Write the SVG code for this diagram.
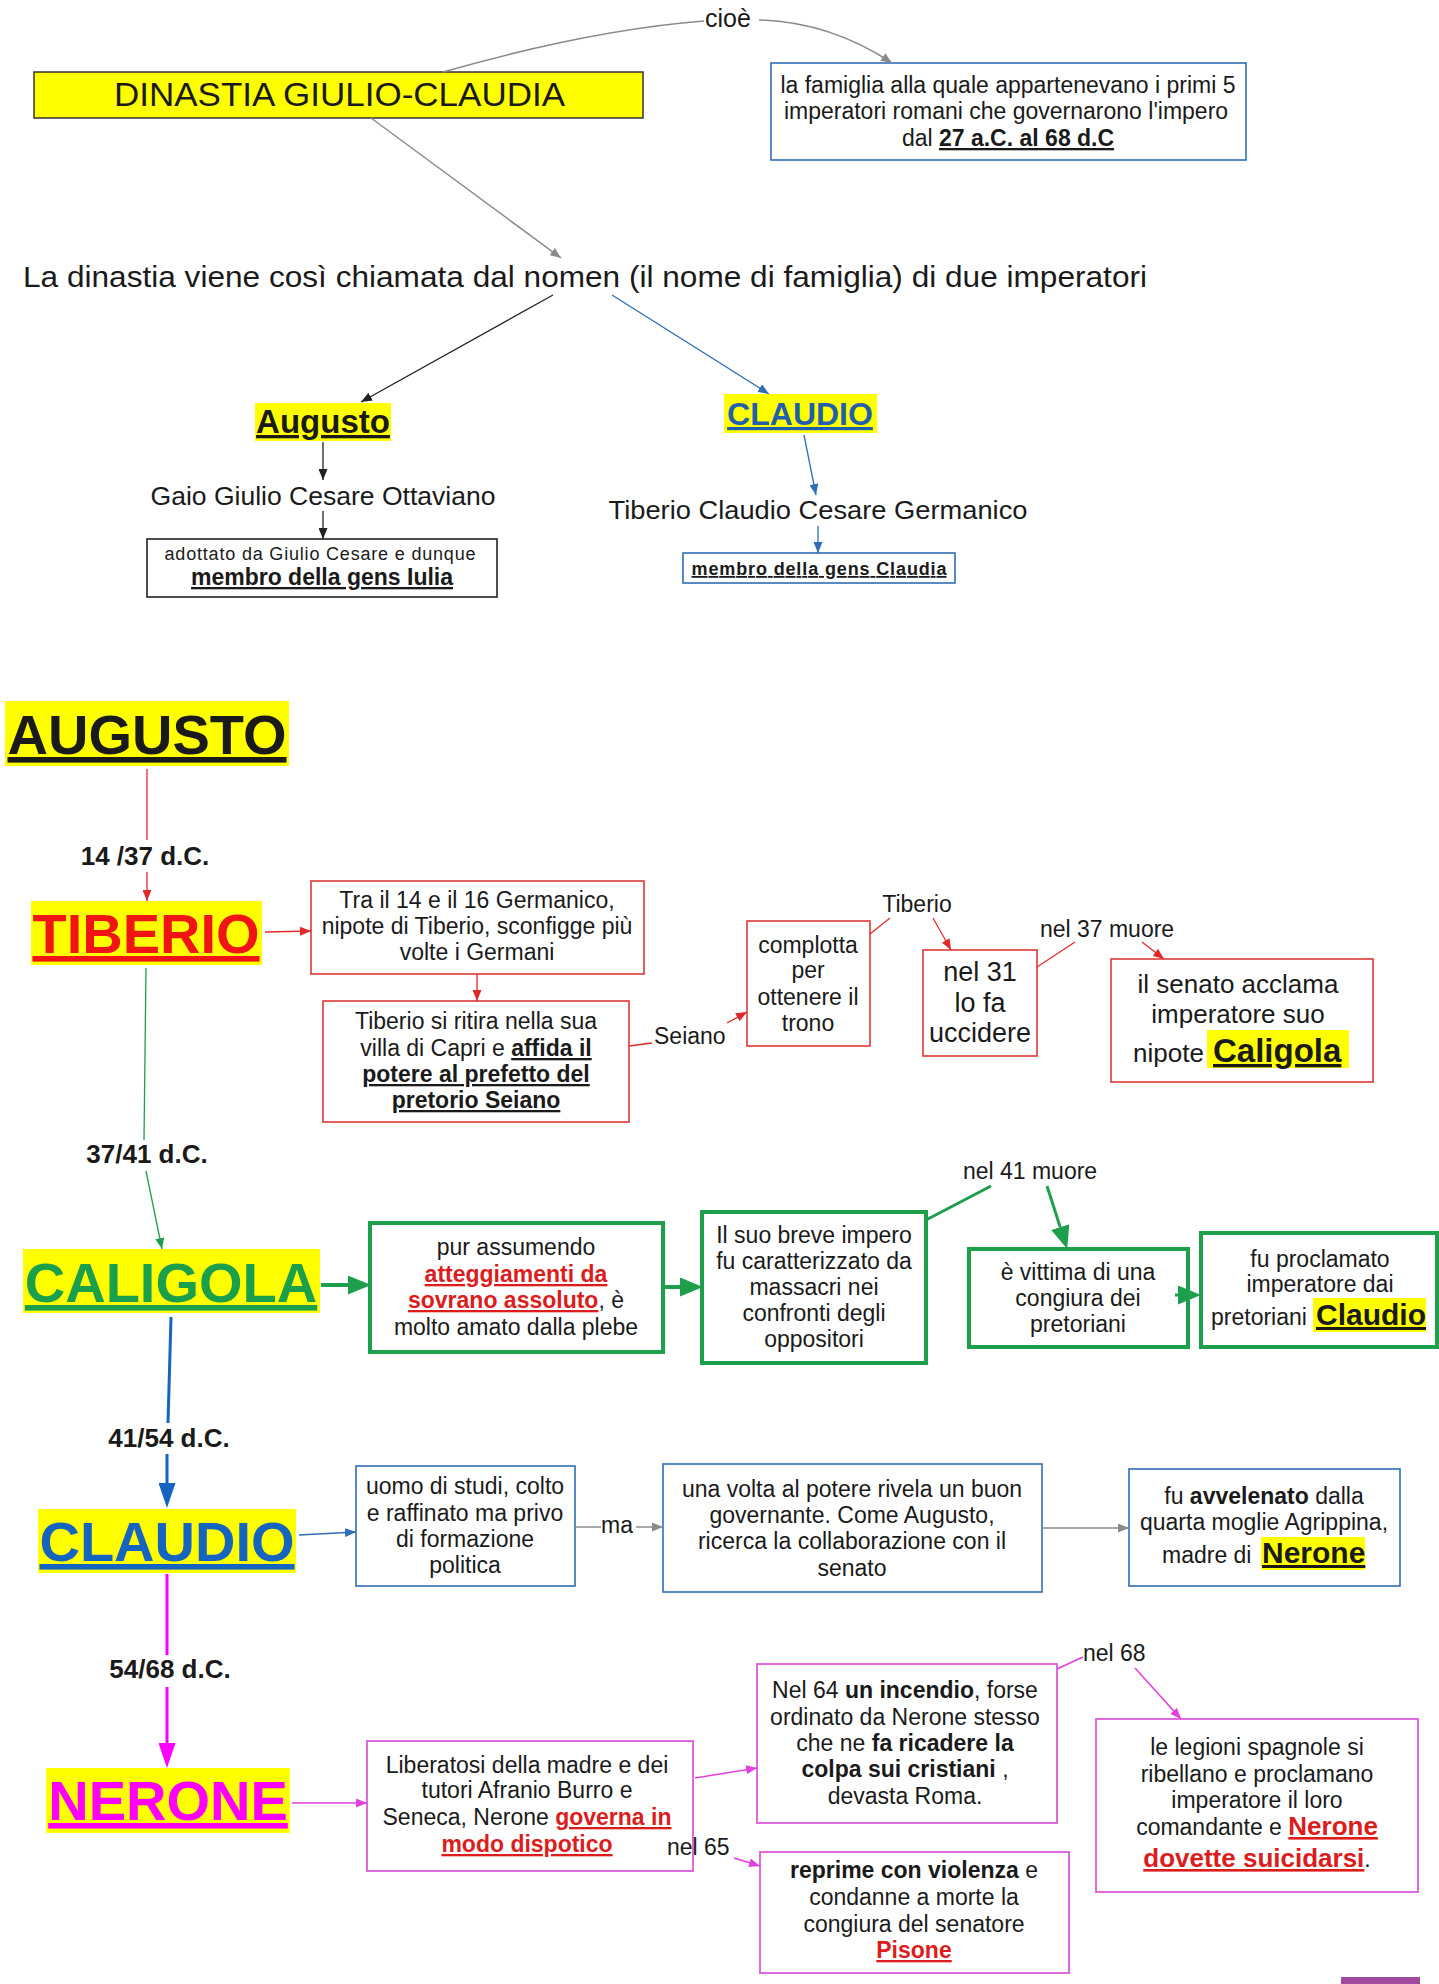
<svg xmlns="http://www.w3.org/2000/svg" width="1439" height="1984" viewBox="0 0 1439 1984">
<style>
text{font-family:"Liberation Sans",Arial,Helvetica,sans-serif;fill:#1a1a1a}
.t23{font-size:23px}
.lbl{font-size:23px}
.date{font-size:26px;font-weight:bold}
.b{font-weight:bold}
.u{text-decoration:underline}
.red{fill:#dd1c1c}
.title{font-size:56px;font-weight:bold;text-decoration:underline}
.hl{fill:#ffff00}
.bx-red{fill:#fff;stroke:#e03838;stroke-width:1.6}
.bx-green{fill:#fff;stroke:#1e9f4b;stroke-width:4}
.bx-blue{fill:#fff;stroke:#2f6eb5;stroke-width:1.6}
.bx-mag{fill:#fff;stroke:#dc5adc;stroke-width:1.8}
.bx-black{fill:#fff;stroke:#222;stroke-width:1.6}
.c{fill:none}
.cg{stroke:#8a8a8a;stroke-width:1.5}
.ck{stroke:#222;stroke-width:1.3}
.cb{stroke:#2f6eb5;stroke-width:1.3}
.cr{stroke:#e02a2a;stroke-width:1.3}
.cgr{stroke:#1e9f4b;stroke-width:1.3}
.cgrT{stroke:#1e9f4b;stroke-width:4}
.cgrM{stroke:#1e9f4b;stroke-width:3}
.cbT{stroke:#1565c0;stroke-width:3}
.cm{stroke:#e040e0;stroke-width:1.6}
.cmT{stroke:#ff00ff;stroke-width:3}
</style>
<defs>
<marker id="aGray" markerUnits="userSpaceOnUse" markerWidth="11" markerHeight="9" refX="11" refY="4.5" orient="auto"><path d="M0,0 L11,4.5 L0,9 z" fill="#8a8a8a"/></marker>
<marker id="aBlack" markerUnits="userSpaceOnUse" markerWidth="11" markerHeight="9" refX="11" refY="4.5" orient="auto"><path d="M0,0 L11,4.5 L0,9 z" fill="#222"/></marker>
<marker id="aBlue" markerUnits="userSpaceOnUse" markerWidth="11" markerHeight="9" refX="11" refY="4.5" orient="auto"><path d="M0,0 L11,4.5 L0,9 z" fill="#2f6eb5"/></marker>
<marker id="aRed" markerUnits="userSpaceOnUse" markerWidth="11" markerHeight="9" refX="11" refY="4.5" orient="auto"><path d="M0,0 L11,4.5 L0,9 z" fill="#e02a2a"/></marker>
<marker id="aGreen" markerUnits="userSpaceOnUse" markerWidth="11" markerHeight="9" refX="11" refY="4.5" orient="auto"><path d="M0,0 L11,4.5 L0,9 z" fill="#1e9f4b"/></marker>
<marker id="aMag" markerUnits="userSpaceOnUse" markerWidth="11" markerHeight="9" refX="11" refY="4.5" orient="auto"><path d="M0,0 L11,4.5 L0,9 z" fill="#e040e0"/></marker>
<marker id="bGreen" markerUnits="userSpaceOnUse" markerWidth="23" markerHeight="19" refX="0" refY="9.5" orient="auto"><path d="M0,0 L23,9.5 L0,19 z" fill="#1e9f4b"/></marker>
<marker id="bBlue" markerUnits="userSpaceOnUse" markerWidth="25" markerHeight="17" refX="0" refY="8.5" orient="auto"><path d="M0,0 L25,8.5 L0,17 z" fill="#1565c0"/></marker>
<marker id="bMag" markerUnits="userSpaceOnUse" markerWidth="25" markerHeight="17" refX="0" refY="8.5" orient="auto"><path d="M0,0 L25,8.5 L0,17 z" fill="#ff00ff"/></marker>
</defs>

<g id="node-dinastia">
<rect x="34" y="72" width="609" height="46" fill="#ffff00" stroke="#333" stroke-width="1.5"/>
<text x="339.5" y="106" text-anchor="middle" style="font-size:34px" textLength="451" lengthAdjust="spacingAndGlyphs">DINASTIA GIULIO-CLAUDIA</text>
</g>

<g id="node-famiglia">
<rect x="771" y="63" width="475" height="97" class="bx-blue"/>
<text x="1008" y="93" text-anchor="middle" class="t23">la famiglia alla quale appartenevano i primi 5</text>
<text x="1006" y="119" text-anchor="middle" class="t23">imperatori romani che governarono l'impero</text>
<text x="1008" y="146" text-anchor="middle" class="t23">dal <tspan class="b u">27 a.C. al 68 d.C</tspan></text>
</g>

<g id="node-nomen">
<text x="23" y="287" style="font-size:30px" textLength="1124" lengthAdjust="spacingAndGlyphs">La dinastia viene così chiamata dal nomen (il nome di famiglia) di due imperatori</text>
</g>

<g id="node-augusto-small">
<rect x="255" y="403" width="136" height="38" class="hl"/>
<text x="323" y="433" text-anchor="middle" class="b u" style="font-size:33px">Augusto</text>
</g>

<g id="node-claudio-small">
<rect x="724" y="394" width="153" height="39" class="hl"/>
<text x="800" y="425" text-anchor="middle" class="b u" style="font-size:32px;fill:#1f5fae">CLAUDIO</text>
</g>

<g id="node-gaio">
<text x="323" y="505" text-anchor="middle" style="font-size:26px" textLength="345" lengthAdjust="spacingAndGlyphs">Gaio Giulio Cesare Ottaviano</text>
</g>

<g id="node-iulia">
<rect x="147" y="539" width="350" height="58" class="bx-black"/>
<text x="320" y="560" text-anchor="middle" style="font-size:18px" textLength="311" lengthAdjust="spacing">adottato da Giulio Cesare e dunque</text>
<text x="322" y="585" text-anchor="middle" class="b u" style="font-size:23px">membro della gens Iulia</text>
</g>

<g id="node-tiberio-claudio">
<text x="818" y="519" text-anchor="middle" style="font-size:26px" textLength="419" lengthAdjust="spacingAndGlyphs">Tiberio Claudio Cesare Germanico</text>
</g>

<g id="node-claudia">
<rect x="683" y="553" width="272" height="30" class="bx-blue"/>
<text x="819" y="575" text-anchor="middle" class="b u" style="font-size:18px" textLength="255" lengthAdjust="spacing">membro della gens Claudia</text>
</g>

<g id="node-AUGUSTO">
<rect x="5" y="701" width="284" height="65" class="hl"/>
<text x="147" y="754" text-anchor="middle" class="title">AUGUSTO</text>
</g>

<g id="node-TIBERIO">
<rect x="31" y="901" width="231" height="64" class="hl"/>
<text x="146" y="953" text-anchor="middle" class="title" style="fill:#f01414">TIBERIO</text>
</g>

<g id="node-germanico">
<rect x="311" y="881" width="333" height="93" class="bx-red"/>
<text x="477" y="908" text-anchor="middle" class="t23">Tra il 14 e il 16 Germanico,</text>
<text x="477" y="934" text-anchor="middle" class="t23">nipote di Tiberio, sconfigge più</text>
<text x="477" y="960" text-anchor="middle" class="t23">volte i Germani</text>
</g>

<g id="node-capri">
<rect x="323" y="1001" width="306" height="121" class="bx-red"/>
<text x="476" y="1029" text-anchor="middle" class="t23">Tiberio si ritira nella sua</text>
<text x="476" y="1056" text-anchor="middle" class="t23">villa di Capri e <tspan class="b u">affida il</tspan></text>
<text x="476" y="1082" text-anchor="middle" class="t23 b u">potere al prefetto del</text>
<text x="476" y="1108" text-anchor="middle" class="t23 b u">pretorio Seiano</text>
</g>

<g id="node-complotta">
<rect x="747" y="921" width="123" height="125" class="bx-red"/>
<text x="808" y="953" text-anchor="middle" class="t23">complotta</text>
<text x="808" y="978" text-anchor="middle" class="t23">per</text>
<text x="808" y="1005" text-anchor="middle" class="t23">ottenere il</text>
<text x="808" y="1031" text-anchor="middle" class="t23">trono</text>
</g>

<g id="node-nel31">
<rect x="923" y="950" width="114" height="106" class="bx-red"/>
<text x="980" y="981" text-anchor="middle" style="font-size:27px">nel 31</text>
<text x="980" y="1012" text-anchor="middle" style="font-size:27px">lo fa</text>
<text x="980" y="1042" text-anchor="middle" style="font-size:27px">uccidere</text>
</g>

<g id="node-senato">
<rect x="1111" y="959" width="262" height="123" class="bx-red"/>
<text x="1238" y="993" text-anchor="middle" style="font-size:26px">il senato acclama</text>
<text x="1238" y="1023" text-anchor="middle" style="font-size:26px">imperatore suo</text>
<rect x="1207" y="1030" width="142" height="38" class="hl"/>
<text x="1133" y="1062" style="font-size:26px">nipote</text>
<text x="1213" y="1062" class="b u" style="font-size:33px">Caligola</text>
</g>

<g id="node-CALIGOLA">
<rect x="23" y="1249" width="297" height="64" class="hl"/>
<text x="171" y="1302" text-anchor="middle" class="title" style="fill:#1a9f4b">CALIGOLA</text>
</g>

<g id="node-plebe">
<rect x="370" y="1223" width="293" height="129" class="bx-green"/>
<text x="516" y="1255" text-anchor="middle" class="t23">pur assumendo</text>
<text x="516" y="1282" text-anchor="middle" class="t23 b u red">atteggiamenti da</text>
<text x="516" y="1308" text-anchor="middle" class="t23"><tspan class="b u red">sovrano assoluto</tspan>, è</text>
<text x="516" y="1335" text-anchor="middle" class="t23">molto amato dalla plebe</text>
</g>

<g id="node-massacri">
<rect x="702" y="1212" width="224" height="151" class="bx-green"/>
<text x="814" y="1243" text-anchor="middle" class="t23">Il suo breve impero</text>
<text x="814" y="1269" text-anchor="middle" class="t23">fu caratterizzato da</text>
<text x="814" y="1295" text-anchor="middle" class="t23">massacri nei</text>
<text x="814" y="1321" text-anchor="middle" class="t23">confronti degli</text>
<text x="814" y="1347" text-anchor="middle" class="t23">oppositori</text>
</g>

<g id="node-congiura">
<rect x="969" y="1249" width="219" height="98" class="bx-green"/>
<text x="1078" y="1280" text-anchor="middle" class="t23">è vittima di una</text>
<text x="1078" y="1306" text-anchor="middle" class="t23">congiura dei</text>
<text x="1078" y="1332" text-anchor="middle" class="t23">pretoriani</text>
</g>

<g id="node-proclamato">
<rect x="1201" y="1233" width="236" height="114" class="bx-green"/>
<text x="1320" y="1267" text-anchor="middle" class="t23">fu proclamato</text>
<text x="1320" y="1292" text-anchor="middle" class="t23">imperatore dai</text>
<rect x="1313" y="1298" width="113" height="34" class="hl"/>
<text x="1211" y="1325" class="t23">pretoriani</text>
<text x="1316" y="1325" class="b u" style="font-size:30px">Claudio</text>
</g>

<g id="node-CLAUDIO">
<rect x="38" y="1509" width="258" height="64" class="hl"/>
<text x="167" y="1561" text-anchor="middle" class="title" style="fill:#1565c0">CLAUDIO</text>
</g>

<g id="node-studi">
<rect x="356" y="1466" width="219" height="120" class="bx-blue"/>
<text x="465" y="1494" text-anchor="middle" class="t23">uomo di studi, colto</text>
<text x="465" y="1521" text-anchor="middle" class="t23">e raffinato ma privo</text>
<text x="465" y="1547" text-anchor="middle" class="t23">di formazione</text>
<text x="465" y="1573" text-anchor="middle" class="t23">politica</text>
</g>

<g id="node-governante">
<rect x="663" y="1464" width="379" height="128" class="bx-blue"/>
<text x="852" y="1497" text-anchor="middle" class="t23">una volta al potere rivela un buon</text>
<text x="852" y="1523" text-anchor="middle" class="t23">governante. Come Augusto,</text>
<text x="852" y="1549" text-anchor="middle" class="t23">ricerca la collaborazione con il</text>
<text x="852" y="1576" text-anchor="middle" class="t23">senato</text>
</g>

<g id="node-avvelenato">
<rect x="1129" y="1469" width="271" height="117" class="bx-blue"/>
<text x="1264" y="1504" text-anchor="middle" class="t23">fu <tspan class="b">avvelenato</tspan> dalla</text>
<text x="1264" y="1530" text-anchor="middle" class="t23">quarta moglie Agrippina,</text>
<rect x="1261" y="1537" width="104" height="33" class="hl"/>
<text x="1162" y="1563" class="t23">madre di</text>
<text x="1262" y="1563" class="b u" style="font-size:30px">Nerone</text>
</g>

<g id="node-NERONE">
<rect x="46" y="1768" width="244" height="65" class="hl"/>
<text x="168" y="1820" text-anchor="middle" class="title" style="fill:#ff00ff">NERONE</text>
</g>

<g id="node-dispotico">
<rect x="367" y="1741" width="326" height="130" class="bx-mag"/>
<text x="527" y="1773" text-anchor="middle" class="t23">Liberatosi della madre e dei</text>
<text x="527" y="1798" text-anchor="middle" class="t23">tutori Afranio Burro e</text>
<text x="527" y="1825" text-anchor="middle" class="t23">Seneca, Nerone <tspan class="b u red">governa in</tspan></text>
<text x="527" y="1852" text-anchor="middle" class="t23 b u red">modo dispotico</text>
</g>

<g id="node-incendio">
<rect x="757" y="1664" width="300" height="159" class="bx-mag"/>
<text x="905" y="1698" text-anchor="middle" class="t23">Nel 64 <tspan class="b">un incendio</tspan>, forse</text>
<text x="905" y="1725" text-anchor="middle" class="t23">ordinato da Nerone stesso</text>
<text x="905" y="1751" text-anchor="middle" class="t23">che ne <tspan class="b">fa ricadere la</tspan></text>
<text x="905" y="1777" text-anchor="middle" class="t23"><tspan class="b">colpa sui cristiani</tspan> ,</text>
<text x="905" y="1804" text-anchor="middle" class="t23">devasta Roma.</text>
</g>

<g id="node-legioni">
<rect x="1096" y="1719" width="322" height="173" class="bx-mag"/>
<text x="1257" y="1755" text-anchor="middle" class="t23">le legioni spagnole si</text>
<text x="1257" y="1782" text-anchor="middle" class="t23">ribellano e proclamano</text>
<text x="1257" y="1808" text-anchor="middle" class="t23">imperatore il loro</text>
<text x="1257" y="1835" text-anchor="middle" class="t23">comandante e <tspan class="b u red" style="font-size:26px">Nerone</tspan></text>
<text x="1257" y="1867" text-anchor="middle" class="t23"><tspan class="b u red" style="font-size:26px">dovette suicidarsi</tspan>.</text>
</g>

<g id="node-pisone">
<rect x="760" y="1852" width="309" height="121" class="bx-mag"/>
<text x="914" y="1878" text-anchor="middle" class="t23"><tspan class="b">reprime con violenza</tspan> e</text>
<text x="914" y="1905" text-anchor="middle" class="t23">condanne a morte la</text>
<text x="914" y="1932" text-anchor="middle" class="t23">congiura del senatore</text>
<text x="914" y="1958" text-anchor="middle" class="t23 b u red">Pisone</text>
</g>

<rect x="1341" y="1977" width="79" height="7" fill="#a04a9e"/>

<g id="connectors">
<path class="c cg" d="M443,72 Q590,30 704,21"/>
<path class="c cg" d="M759,20 Q830,22 892,63" marker-end="url(#aGray)"/>
<path class="c cg" d="M371,118 L561,258" marker-end="url(#aGray)"/>
<path class="c ck" d="M553,295 L361,402" marker-end="url(#aBlack)"/>
<path class="c cb" d="M612,295 L769,394" marker-end="url(#aBlue)"/>
<path class="c ck" d="M323,442 L323,480" marker-end="url(#aBlack)"/>
<path class="c ck" d="M323,511 L323,539" marker-end="url(#aBlack)"/>
<path class="c cb" d="M804,435 L816,495" marker-end="url(#aBlue)"/>
<path class="c cb" d="M818,526 L818,553" marker-end="url(#aBlue)"/>

<path class="c cr" d="M147,769 L147,840"/>
<path class="c cr" d="M147,872 L147,901" marker-end="url(#aRed)"/>
<path class="c cr" d="M265,932 L311,931" marker-end="url(#aRed)"/>
<path class="c cr" d="M477,974 L477,1001" marker-end="url(#aRed)"/>
<path class="c cr" d="M629,1046 L652,1043"/>
<path class="c cr" d="M727,1023 L747,1012" marker-end="url(#aRed)"/>
<path class="c cr" d="M870,934 L890,918"/>
<path class="c cr" d="M933,918 L951,950" marker-end="url(#aRed)"/>
<path class="c cr" d="M1037,967 L1075,942"/>
<path class="c cr" d="M1142,942 L1164,959" marker-end="url(#aRed)"/>

<path class="c cgr" d="M146,968 L144,1140"/>
<path class="c cgr" d="M146,1171 L162,1249" marker-end="url(#aGreen)"/>
<path class="c cgrT" d="M321,1285 L348,1285" marker-end="url(#bGreen)"/>
<path class="c cgrT" d="M663,1287 L680,1287" marker-end="url(#bGreen)"/>
<path class="c cgrM" d="M926,1220 L991,1186"/>
<path class="c cgrM" d="M1047,1186 L1060.2,1227.1" marker-end="url(#bGreen)"/>
<path class="c cgrM" d="M1175,1295 L1178,1295" marker-end="url(#bGreen)"/>

<path class="c cbT" d="M171,1317 L168,1423"/>
<path class="c cbT" d="M167,1454 L167,1483" marker-end="url(#bBlue)"/>
<path class="c cb" d="M299,1535 L356,1532" marker-end="url(#aBlue)"/>
<path class="c cg" d="M575,1527 L601,1527"/>
<path class="c cg" d="M636,1527 L663,1527" marker-end="url(#aGray)"/>
<path class="c cg" d="M1042,1528 L1129,1528" marker-end="url(#aGray)"/>

<path class="c cmT" d="M167,1574 L167,1655"/>
<path class="c cmT" d="M167,1687 L167,1743" marker-end="url(#bMag)"/>
<path class="c cm" d="M292,1803 L367,1803" marker-end="url(#aMag)"/>
<path class="c cm" d="M695,1778 L757,1768" marker-end="url(#aMag)"/>
<path class="c cm" d="M1057,1669 L1083,1657"/>
<path class="c cm" d="M1135,1668 L1181,1719" marker-end="url(#aMag)"/>
<path class="c cm" d="M734,1858 L760,1866" marker-end="url(#aMag)"/>

<g id="connector-labels">
<text x="705" y="27" style="font-size:25px">cioè</text>
<text x="145" y="865" text-anchor="middle" class="date">14 /37 d.C.</text>
<text x="654" y="1044" class="lbl">Seiano</text>
<text x="917" y="912" text-anchor="middle" class="lbl">Tiberio</text>
<text x="1107" y="937" text-anchor="middle" class="lbl">nel 37 muore</text>
<text x="147" y="1163" text-anchor="middle" class="date">37/41 d.C.</text>
<text x="1030" y="1179" text-anchor="middle" class="lbl">nel 41 muore</text>
<text x="169" y="1447" text-anchor="middle" class="date">41/54 d.C.</text>
<text x="601" y="1533" class="lbl">ma</text>
<text x="170" y="1678" text-anchor="middle" class="date">54/68 d.C.</text>
<text x="1083" y="1661" class="lbl">nel 68</text>
<text x="667" y="1855" class="lbl">nel 65</text>
</g>
</g>
</svg>
